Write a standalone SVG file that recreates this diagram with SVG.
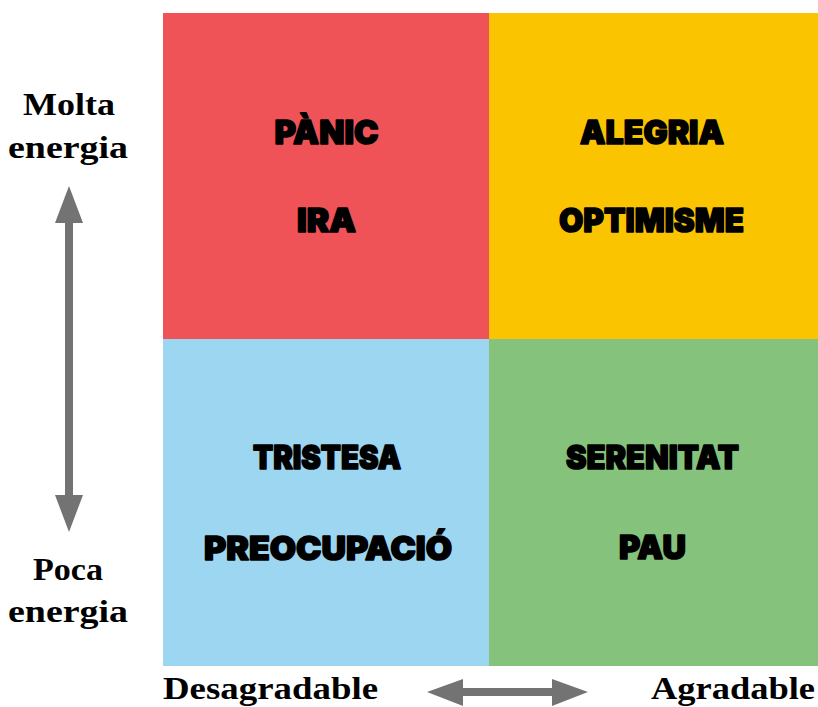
<svg xmlns="http://www.w3.org/2000/svg" width="818" height="707" viewBox="0 0 818 707">
<style>
.q{font-family:Inter,"DejaVu Sans",sans-serif;font-weight:900;font-size:33px;fill:#000;stroke:#000;stroke-width:1.6px;stroke-linejoin:round;text-anchor:middle}
.s{font-family:"Liberation Serif","DejaVu Serif",serif;font-weight:bold;font-size:32px;fill:#000;text-anchor:middle}
.arr{fill:#737373}
</style>
<rect width="818" height="707" fill="#fff"/>
<g id="panic">
<rect x="163" y="13" width="326" height="326" fill="#EF5358"/>
<text class="q" x="326.5" y="144" textLength="104" lengthAdjust="spacingAndGlyphs">PÀNIC</text>
<text class="q" x="326.5" y="232" textLength="59" lengthAdjust="spacingAndGlyphs">IRA</text>
</g>
<g id="alegria">
<rect x="489" y="13" width="329" height="326" fill="#FBC400"/>
<text class="q" x="652" y="144" textLength="144" lengthAdjust="spacingAndGlyphs">ALEGRIA</text>
<text class="q" x="651.5" y="232" textLength="185" lengthAdjust="spacingAndGlyphs">OPTIMISME</text>
</g>
<g id="tristesa">
<rect x="163" y="339" width="326" height="327" fill="#9DD6F0"/>
<text class="q" x="327" y="469" textLength="148" lengthAdjust="spacingAndGlyphs">TRISTESA</text>
<text class="q" x="328" y="560" textLength="248" lengthAdjust="spacingAndGlyphs">PREOCUPACIÓ</text>
</g>
<g id="serenitat">
<rect x="489" y="339" width="329" height="327" fill="#85C37C"/>
<text class="q" x="652.5" y="469" textLength="173" lengthAdjust="spacingAndGlyphs">SERENITAT</text>
<text class="q" x="652.5" y="559" textLength="67" lengthAdjust="spacingAndGlyphs">PAU</text>
</g>
<g id="labels">
<text class="s" x="69" y="115" textLength="92" lengthAdjust="spacingAndGlyphs">Molta</text>
<text class="s" x="68" y="158" textLength="120" lengthAdjust="spacingAndGlyphs">energia</text>
<text class="s" x="68" y="580" textLength="70" lengthAdjust="spacingAndGlyphs">Poca</text>
<text class="s" x="68" y="622" textLength="120" lengthAdjust="spacingAndGlyphs">energia</text>
<text class="s" x="270.5" y="699" textLength="215" lengthAdjust="spacingAndGlyphs">Desagradable</text>
<text class="s" x="733" y="699" textLength="164" lengthAdjust="spacingAndGlyphs">Agradable</text>
</g>
<g id="connectors">
<path class="arr" d="M69,186 L83,223 L73,223 L73,495 L83,495 L69,532 L55,495 L65,495 L65,223 L55,223 Z"/>
<path class="arr" d="M427,692 L463,679 L463,688 L552,688 L552,679 L588,692 L552,706 L552,696 L463,696 L463,706 Z"/>
</g>
</svg>
